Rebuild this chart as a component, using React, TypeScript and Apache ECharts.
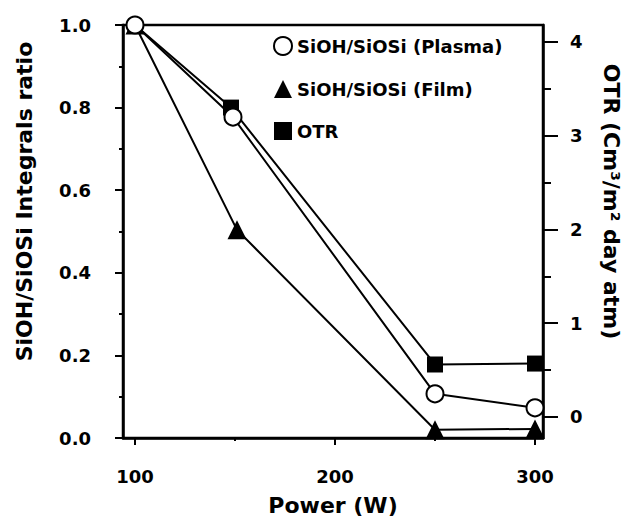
import React, { useEffect, useRef } from "react";
import * as echarts from "echarts";

const powerPlasma = [100, 149, 250, 300];
const ratioPlasma = [1.0, 0.777, 0.107, 0.073];
const powerFilm = [100, 151, 250, 300];
const ratioFilm = [1.0, 0.504, 0.02, 0.022];
const powerOTR = [100, 148, 250, 300];
const valueOTR = [4.18, 3.3, 0.56, 0.57];
const leftTicks = [0, 0.2, 0.4, 0.6, 0.8, 1.0];
const rightTicks = [0, 1, 2, 3, 4];
const rightMinorTicks = [0.5, 1.5, 2.5, 3.5];
const xTicks = [100, 200, 300];
const xMinorTicks = [150, 250];

const FONT = "DejaVu Sans";

export default function App() {
  const ref = useRef<HTMLDivElement>(null);
  useEffect(() => {
    if (!ref.current) return;
    const chart = echarts.init(ref.current, undefined, { renderer: "svg" });
    const axisLine = { show: true, onZero: false, lineStyle: { color: "#000", width: 2.5 } };
    const label = { color: "#000", fontFamily: FONT, fontWeight: "bold" as const, fontSize: 18 };
    const nameStyle = { color: "#000", fontFamily: FONT, fontWeight: "bold" as const, fontSize: 22 };
    chart.setOption({
      animation: false,
      backgroundColor: "#fff",
      grid: { left: 123, right: 88, top: 25, bottom: 85, show: true, borderColor: "#000", borderWidth: 2.5, backgroundColor: "transparent" },
      legend: {
        orient: "vertical",
        left: 268,
        top: 31,
        itemWidth: 18,
        itemHeight: 18,
        itemGap: 24,
        textStyle: { color: "#000", fontFamily: FONT, fontWeight: "bold", fontSize: 18 },
        data: [
          { name: "SiOH/SiOSi (Plasma)", icon: "circle" },
          { name: "SiOH/SiOSi (Film)", icon: "triangle" },
          { name: "OTR", icon: "rect" },
        ],
      },
      xAxis: [
        {
          type: "value",
          min: 94,
          max: 304,
          name: "Power (W)",
          nameLocation: "middle",
          nameGap: 56,
          nameTextStyle: nameStyle,
          axisLine,
          splitLine: { show: false },
          axisTick: { show: true, inside: false, length: 7, customValues: xTicks, lineStyle: { color: "#000", width: 2 } },
          axisLabel: { ...label, margin: 29, customValues: xTicks },
        },
        {
          type: "value",
          position: "bottom",
          min: 94,
          max: 304,
          axisLine: { show: false, onZero: false },
          splitLine: { show: false },
          axisTick: { show: true, inside: false, length: 3, customValues: xMinorTicks, lineStyle: { color: "#000", width: 2 } },
          axisLabel: { show: false, customValues: xMinorTicks },
        },
      ],
      yAxis: [
        {
          type: "value",
          position: "left",
          min: 0,
          max: 1,
          interval: 0.2,
          name: "SiOH/SiOSi Integrals ratio",
          nameLocation: "middle",
          nameGap: 88,
          nameTextStyle: { ...nameStyle, padding: [0, 0, 0, 60] },
          axisLine,
          splitLine: { show: false },
          axisTick: { show: true, inside: false, length: 8, lineStyle: { color: "#000", width: 2 } },
          minorTick: { show: true, splitNumber: 2, length: 4, lineStyle: { color: "#000", width: 2 } },
          axisLabel: { ...label, margin: 32, customValues: leftTicks, formatter: (v: number) => v.toFixed(1) },
        },
        {
          type: "value",
          position: "right",
          min: -0.224,
          max: 4.181,
          name: "OTR (Cm³/m² day atm)",
          nameLocation: "middle",
          nameRotate: -90,
          nameGap: 57,
          nameTextStyle: { ...nameStyle, padding: [0, 60, 0, 0] },
          axisLine,
          splitLine: { show: false },
          axisTick: { show: true, inside: false, length: 15, customValues: rightTicks, lineStyle: { color: "#000", width: 2 } },
          axisLabel: { ...label, margin: 27, customValues: rightTicks, formatter: (v: number) => String(Math.round(v)) },
        },
        {
          type: "value",
          position: "right",
          min: -0.224,
          max: 4.181,
          axisLine: { show: false },
          splitLine: { show: false },
          axisTick: { show: true, inside: false, length: 8, customValues: rightMinorTicks, lineStyle: { color: "#000", width: 2 } },
          axisLabel: { show: false, customValues: rightMinorTicks },
        },
      ],
      series: [
        {
          name: "OTR",
          type: "line",
          yAxisIndex: 1,
          z: 2,
          symbol: "rect",
          symbolSize: 16,
          lineStyle: { color: "#000", width: 2 },
          itemStyle: { color: "#000" },
          data: powerOTR.map((x, i) => (i === 0 ? { value: [x, valueOTR[i]], symbolSize: 0 } : [x, valueOTR[i]])),
        },
        {
          name: "SiOH/SiOSi (Film)",
          type: "line",
          yAxisIndex: 0,
          z: 3,
          symbol: "triangle",
          symbolSize: 19,
          lineStyle: { color: "#000", width: 2 },
          itemStyle: { color: "#000" },
          data: powerFilm.map((x, i) => [x, ratioFilm[i]]),
        },
        {
          name: "SiOH/SiOSi (Plasma)",
          type: "line",
          yAxisIndex: 0,
          z: 4,
          symbol: "circle",
          symbolSize: 17,
          lineStyle: { color: "#000", width: 2 },
          itemStyle: { color: "#fff", borderColor: "#000", borderWidth: 2 },
          data: powerPlasma.map((x, i) => [x, ratioPlasma[i]]),
        },
      ],
    });
    return () => chart.dispose();
  }, []);
  return <div ref={ref} style={{ width: 631, height: 523, position: "absolute", left: 0, top: 0 }} />;
}
